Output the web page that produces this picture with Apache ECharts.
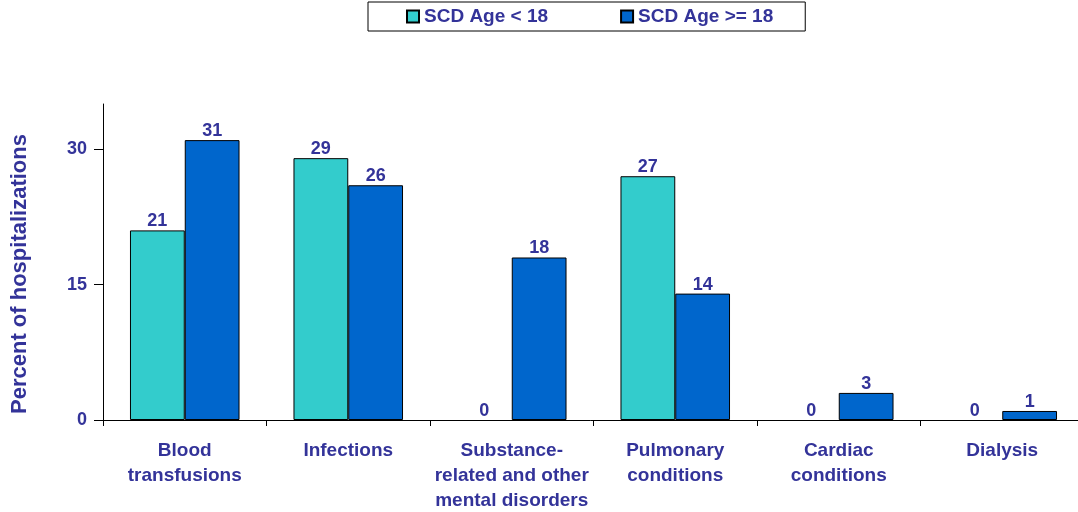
<!DOCTYPE html>
<html>
<head>
<meta charset="utf-8">
<script src="https://cdn.jsdelivr.net/npm/echarts@6/dist/echarts.min.js"></script>
<style>
  html, body { margin: 0; padding: 0; background: #fff; }
  #chart { width: 1078px; height: 512px; }
</style>
</head>
<body>
<div id="chart"></div>
<script>
  var categories = ['Blood\ntransfusions', 'Infections', 'Substance-\nrelated and other\nmental disorders',
    'Pulmonary\nconditions', 'Cardiac\nconditions', 'Dialysis'];
  var under18 = [21, 29, 0, 27, 0, 0];
  var over18 = [31, 26, 18, 14, 3, 1];
  var seriesNames = ['SCD Age < 18', 'SCD Age >= 18'];
  var yTicks = [0, 15, 30];

  var textColor = '#333399';
  var font = 'Liberation Sans, Arial, sans-serif';

  // zero bars get no outline, as in the original
  function toBars(arr) {
    return arr.map(function (v) {
      return v === 0 ? { value: v, itemStyle: { borderWidth: 0 } } : v;
    });
  }

  var labelStyle = {
    show: true, position: 'top', distance: 0, color: textColor,
    fontFamily: font, fontWeight: 'bold', fontSize: 18
  };

  var chart = echarts.init(document.getElementById('chart'));
  chart.setOption({
    animation: false,
    legend: {
      data: seriesNames,
      icon: 'rect',
      left: 368,
      top: 2,
      padding: [5, 32, 5, 38],
      itemGap: 72,
      itemWidth: 12,
      itemHeight: 12,
      borderColor: '#000',
      borderWidth: 1,
      textStyle: { color: textColor, fontFamily: font, fontWeight: 'bold', fontSize: 19 }
    },
    grid: { left: 103, top: 104, width: 981, height: 316, outerBoundsMode: 'none' },
    xAxis: {
      type: 'category',
      data: categories,
      axisLine: { lineStyle: { color: '#000' } },
      axisTick: { show: true, length: 6, lineStyle: { color: '#000' } },
      axisLabel: {
        color: textColor, fontFamily: font, fontWeight: 'bold', fontSize: 19,
        lineHeight: 25, margin: 18, interval: 0
      }
    },
    yAxis: {
      type: 'value',
      min: 0,
      max: 35,
      interval: 15,
      name: 'Percent of hospitalizations',
      nameLocation: 'middle',
      nameGap: 72,
      nameTextStyle: { color: textColor, fontFamily: font, fontWeight: 'bold', fontSize: 22,
        padding: [0, 24, 0, 0] },
      splitLine: { show: false },
      axisLine: { show: true, lineStyle: { color: '#000' } },
      axisTick: { show: true, length: 9, customValues: yTicks, lineStyle: { color: '#000' } },
      axisLabel: { color: textColor, fontFamily: font, fontWeight: 'bold', fontSize: 18, margin: 16,
        customValues: yTicks }
    },
    series: [
      {
        name: seriesNames[0],
        type: 'bar',
        data: toBars(under18),
        barGap: 0,
        barCategoryGap: '33%',
        itemStyle: { color: '#33CCCC', borderColor: '#000', borderWidth: 1 },
        label: labelStyle
      },
      {
        name: seriesNames[1],
        type: 'bar',
        data: toBars(over18),
        barGap: 0,
        barCategoryGap: '33%',
        itemStyle: { color: '#0066CC', borderColor: '#000', borderWidth: 1 },
        label: labelStyle
      }
    ]
  });
</script>
</body>
</html>
